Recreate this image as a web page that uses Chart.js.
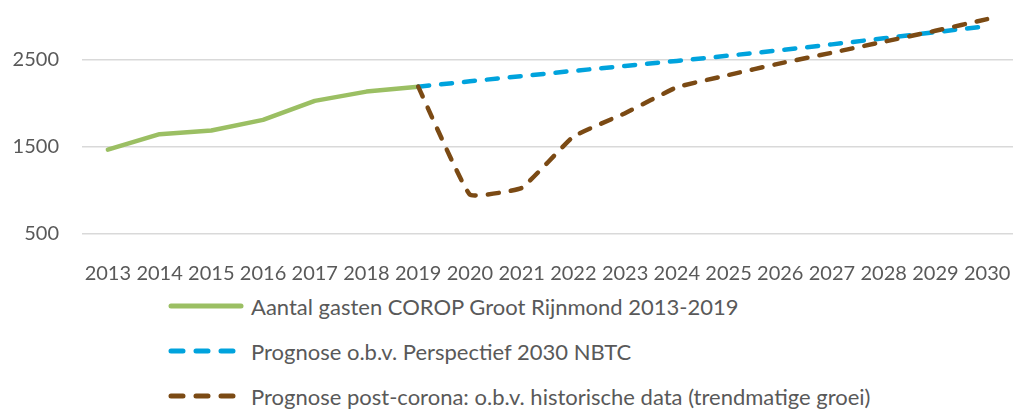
<!DOCTYPE html>
<html>
<head>
<meta charset="utf-8">
<script src="https://cdn.jsdelivr.net/npm/chart.js@4"></script>
<style>
  html, body { margin: 0; padding: 0; background: #fff; }
  #wrap { position: relative; width: 1014px; height: 409px; }
  #box { position: absolute; left: 0; top: 0; width: 1014px; height: 285px; }
  .row { position: absolute; left: 168px; height: 24px; display: flex; align-items: center;
         font-family: Lato, sans-serif; font-size: 22px; color: #595959; white-space: nowrap; }
  .row svg { margin-right: 7px; }
</style>
</head>
<body>
<div id="wrap">
  <div id="box"><canvas id="myChart"></canvas></div>
  <div id="legend"></div>
</div>
<script>
let years = ['2013','2014','2015','2016','2017','2018','2019','2020','2021','2022','2023','2024','2025','2026','2027','2028','2029','2030']
let yTicks = [500, 1500, 2500]

let gasten    = [1469, 1648, 1689, 1812, 2030, 2137, 2194, null, null, null, null, null, null, null, null, null, null, null]
let nbtc      = [null, null, null, null, null, null, 2194, 2255, 2315, 2375, 2432, 2490, 2550, 2612, 2680, 2750, 2820, 2890]
let postCorona = [null, null, null, null, null, null, 2194, 952, 1029, 1620, 1889, 2187, 2328, 2462, 2584, 2710, 2836, 2970]

let labels = [
  'Aantal gasten COROP Groot Rijnmond 2013-2019',
  'Prognose o.b.v. Perspectief 2030 NBTC',
  'Prognose post-corona: o.b.v. historische data (trendmatige groei)'
]
let colors = ['#9bbf63', '#00a3dd', '#7b4a14']

let font = { family: 'Lato', size: 20 }
let ctx = document.getElementById('myChart').getContext('2d')

let chart = new Chart(ctx, {
  type: 'line',
  data: {
    labels: years,
    datasets: [
      { label: labels[0], data: gasten, borderColor: colors[0], borderWidth: 4.5,
        borderCapStyle: 'round', borderJoinStyle: 'round', pointRadius: 0, order: 2, clip: false },
      { label: labels[1], data: nbtc, borderColor: colors[1], borderWidth: 4.5, borderDash: [11, 12],
        borderCapStyle: 'round', pointRadius: 0, order: 1, clip: false },
      { label: labels[2], data: postCorona, borderColor: colors[2], borderWidth: 4.5, borderDash: [11, 12],
        borderCapStyle: 'round', pointRadius: 0, order: 0, clip: false, tension: 0.1 }
    ]
  },
  options: {
    responsive: true,
    maintainAspectRatio: false,
    animation: false,
    layout: { padding: { top: 0, right: 1, left: 0, bottom: 0 } },
    plugins: { legend: { display: false }, tooltip: { enabled: false } },
    scales: {
      x: {
        offset: true,
        grid: { display: false },
        border: { display: false },
        ticks: { color: '#595959', font: font, padding: 20, maxRotation: 0, autoSkip: false },
        afterFit: s => { s.height = 51; s.paddingLeft = 0; s.paddingRight = 0 }
      },
      y: {
        min: 500,
        max: 3190,
        grid: { color: '#d9d9d9', lineWidth: 1.5, drawTicks: false },
        border: { display: false },
        ticks: { color: '#595959', font: font, padding: 23, callback: v => String(v) },
        afterBuildTicks: s => { s.ticks = yTicks.map(v => ({ value: v })) },
        afterFit: s => { s.width = 82; s.paddingTop = 0; s.paddingBottom = 0 }
      }
    }
  }
})

// legend under the chart, one row per series
let legend = document.getElementById('legend')
let rowTop = [294, 339, 384]
labels.forEach((txt, i) => {
  let row = document.createElement('div')
  row.className = 'row'
  row.style.top = rowTop[i] + 'px'
  let dash = i === 0 ? '' : 'stroke-dasharray="12 13"'
  row.innerHTML = '<svg width="76" height="10"><line x1="3" y1="5" x2="73" y2="5" stroke="' + colors[i] +
    '" stroke-width="5" stroke-linecap="round" ' + dash + '/></svg>' + txt
  legend.appendChild(row)
})
</script>
</body>
</html>
